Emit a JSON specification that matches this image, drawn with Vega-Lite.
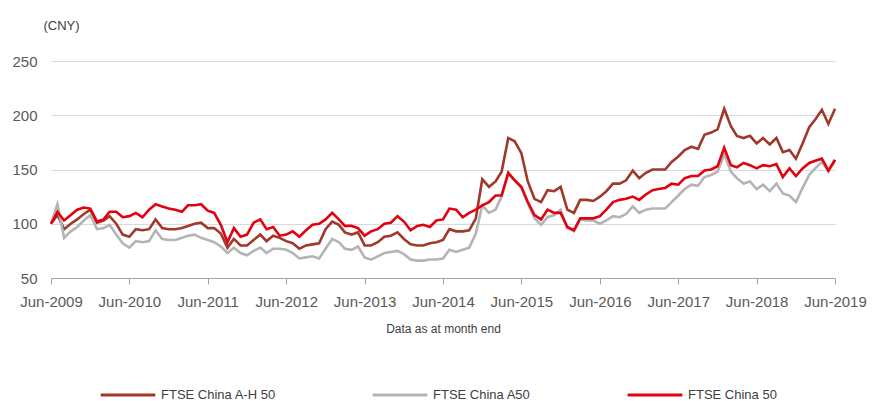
{
  "$schema": "https://vega.github.io/schema/vega-lite/v6.json",
  "width": 784,
  "height": 217,
  "autosize": {"type": "none"},
  "padding": {"left": 51, "top": 61, "right": 37, "bottom": 123},
  "config": {"view": {"stroke": null}, "font": "Liberation Sans"},
  "data": {"values": [
    {"date": "2009-06-01", "FTSE China A-H 50": 100, "FTSE China A50": 100, "FTSE China 50": 100},
    {"date": "2009-07-01", "FTSE China A-H 50": 108, "FTSE China A50": 118, "FTSE China 50": 111},
    {"date": "2009-08-01", "FTSE China A-H 50": 95, "FTSE China A50": 87, "FTSE China 50": 103},
    {"date": "2009-09-01", "FTSE China A-H 50": 100, "FTSE China A50": 93, "FTSE China 50": 108},
    {"date": "2009-10-01", "FTSE China A-H 50": 104, "FTSE China A50": 97, "FTSE China 50": 113},
    {"date": "2009-11-01", "FTSE China A-H 50": 109, "FTSE China A50": 103, "FTSE China 50": 115},
    {"date": "2009-12-01", "FTSE China A-H 50": 113, "FTSE China A50": 108, "FTSE China 50": 114},
    {"date": "2010-01-01", "FTSE China A-H 50": 101, "FTSE China A50": 95, "FTSE China 50": 102},
    {"date": "2010-02-01", "FTSE China A-H 50": 103, "FTSE China A50": 96, "FTSE China 50": 104},
    {"date": "2010-03-01", "FTSE China A-H 50": 107, "FTSE China A50": 99, "FTSE China 50": 111},
    {"date": "2010-04-01", "FTSE China A-H 50": 100, "FTSE China A50": 90, "FTSE China 50": 111},
    {"date": "2010-05-01", "FTSE China A-H 50": 90, "FTSE China A50": 82, "FTSE China 50": 106},
    {"date": "2010-06-01", "FTSE China A-H 50": 88, "FTSE China A50": 78, "FTSE China 50": 107},
    {"date": "2010-07-01", "FTSE China A-H 50": 95, "FTSE China A50": 84, "FTSE China 50": 110},
    {"date": "2010-08-01", "FTSE China A-H 50": 94, "FTSE China A50": 83, "FTSE China 50": 106},
    {"date": "2010-09-01", "FTSE China A-H 50": 95, "FTSE China A50": 84, "FTSE China 50": 113},
    {"date": "2010-10-01", "FTSE China A-H 50": 104, "FTSE China A50": 94, "FTSE China 50": 118},
    {"date": "2010-11-01", "FTSE China A-H 50": 96, "FTSE China A50": 86, "FTSE China 50": 116},
    {"date": "2010-12-01", "FTSE China A-H 50": 95, "FTSE China A50": 85, "FTSE China 50": 114},
    {"date": "2011-01-01", "FTSE China A-H 50": 95, "FTSE China A50": 85, "FTSE China 50": 113},
    {"date": "2011-02-01", "FTSE China A-H 50": 96, "FTSE China A50": 87, "FTSE China 50": 111},
    {"date": "2011-03-01", "FTSE China A-H 50": 98, "FTSE China A50": 89, "FTSE China 50": 117},
    {"date": "2011-04-01", "FTSE China A-H 50": 100, "FTSE China A50": 90, "FTSE China 50": 117},
    {"date": "2011-05-01", "FTSE China A-H 50": 101, "FTSE China A50": 87, "FTSE China 50": 118},
    {"date": "2011-06-01", "FTSE China A-H 50": 96, "FTSE China A50": 85, "FTSE China 50": 112},
    {"date": "2011-07-01", "FTSE China A-H 50": 96, "FTSE China A50": 83, "FTSE China 50": 110},
    {"date": "2011-08-01", "FTSE China A-H 50": 91, "FTSE China A50": 79, "FTSE China 50": 99},
    {"date": "2011-09-01", "FTSE China A-H 50": 78, "FTSE China A50": 73, "FTSE China 50": 83},
    {"date": "2011-10-01", "FTSE China A-H 50": 86, "FTSE China A50": 78, "FTSE China 50": 96},
    {"date": "2011-11-01", "FTSE China A-H 50": 80, "FTSE China A50": 73, "FTSE China 50": 88},
    {"date": "2011-12-01", "FTSE China A-H 50": 80, "FTSE China A50": 71, "FTSE China 50": 90},
    {"date": "2012-01-01", "FTSE China A-H 50": 85, "FTSE China A50": 75, "FTSE China 50": 101},
    {"date": "2012-02-01", "FTSE China A-H 50": 90, "FTSE China A50": 78, "FTSE China 50": 104},
    {"date": "2012-03-01", "FTSE China A-H 50": 84, "FTSE China A50": 73, "FTSE China 50": 95},
    {"date": "2012-04-01", "FTSE China A-H 50": 89, "FTSE China A50": 77, "FTSE China 50": 97},
    {"date": "2012-05-01", "FTSE China A-H 50": 87, "FTSE China A50": 77, "FTSE China 50": 89},
    {"date": "2012-06-01", "FTSE China A-H 50": 84, "FTSE China A50": 76, "FTSE China 50": 90},
    {"date": "2012-07-01", "FTSE China A-H 50": 82, "FTSE China A50": 73, "FTSE China 50": 93},
    {"date": "2012-08-01", "FTSE China A-H 50": 77, "FTSE China A50": 68, "FTSE China 50": 88},
    {"date": "2012-09-01", "FTSE China A-H 50": 80, "FTSE China A50": 69, "FTSE China 50": 94},
    {"date": "2012-10-01", "FTSE China A-H 50": 81, "FTSE China A50": 70, "FTSE China 50": 99},
    {"date": "2012-11-01", "FTSE China A-H 50": 82, "FTSE China A50": 68, "FTSE China 50": 100},
    {"date": "2012-12-01", "FTSE China A-H 50": 95, "FTSE China A50": 77, "FTSE China 50": 104},
    {"date": "2013-01-01", "FTSE China A-H 50": 102, "FTSE China A50": 86, "FTSE China 50": 110},
    {"date": "2013-02-01", "FTSE China A-H 50": 99, "FTSE China A50": 83, "FTSE China 50": 104},
    {"date": "2013-03-01", "FTSE China A-H 50": 92, "FTSE China A50": 77, "FTSE China 50": 98},
    {"date": "2013-04-01", "FTSE China A-H 50": 90, "FTSE China A50": 76, "FTSE China 50": 98},
    {"date": "2013-05-01", "FTSE China A-H 50": 92, "FTSE China A50": 79, "FTSE China 50": 96},
    {"date": "2013-06-01", "FTSE China A-H 50": 80, "FTSE China A50": 69, "FTSE China 50": 89},
    {"date": "2013-07-01", "FTSE China A-H 50": 80, "FTSE China A50": 67, "FTSE China 50": 93},
    {"date": "2013-08-01", "FTSE China A-H 50": 83, "FTSE China A50": 70, "FTSE China 50": 95},
    {"date": "2013-09-01", "FTSE China A-H 50": 88, "FTSE China A50": 73, "FTSE China 50": 100},
    {"date": "2013-10-01", "FTSE China A-H 50": 89, "FTSE China A50": 74, "FTSE China 50": 101},
    {"date": "2013-11-01", "FTSE China A-H 50": 92, "FTSE China A50": 75, "FTSE China 50": 107},
    {"date": "2013-12-01", "FTSE China A-H 50": 86, "FTSE China A50": 72, "FTSE China 50": 102},
    {"date": "2014-01-01", "FTSE China A-H 50": 81, "FTSE China A50": 67, "FTSE China 50": 94},
    {"date": "2014-02-01", "FTSE China A-H 50": 80, "FTSE China A50": 66, "FTSE China 50": 98},
    {"date": "2014-03-01", "FTSE China A-H 50": 80, "FTSE China A50": 66, "FTSE China 50": 99},
    {"date": "2014-04-01", "FTSE China A-H 50": 82, "FTSE China A50": 67, "FTSE China 50": 97},
    {"date": "2014-05-01", "FTSE China A-H 50": 83, "FTSE China A50": 67, "FTSE China 50": 103},
    {"date": "2014-06-01", "FTSE China A-H 50": 85, "FTSE China A50": 68, "FTSE China 50": 104},
    {"date": "2014-07-01", "FTSE China A-H 50": 95, "FTSE China A50": 76, "FTSE China 50": 114},
    {"date": "2014-08-01", "FTSE China A-H 50": 93, "FTSE China A50": 74, "FTSE China 50": 113},
    {"date": "2014-09-01", "FTSE China A-H 50": 93, "FTSE China A50": 76, "FTSE China 50": 106},
    {"date": "2014-10-01", "FTSE China A-H 50": 94, "FTSE China A50": 78, "FTSE China 50": 110},
    {"date": "2014-11-01", "FTSE China A-H 50": 105, "FTSE China A50": 91, "FTSE China 50": 113},
    {"date": "2014-12-01", "FTSE China A-H 50": 141, "FTSE China A50": 117, "FTSE China 50": 117},
    {"date": "2015-01-01", "FTSE China A-H 50": 134, "FTSE China A50": 110, "FTSE China 50": 120},
    {"date": "2015-02-01", "FTSE China A-H 50": 139, "FTSE China A50": 113, "FTSE China 50": 126},
    {"date": "2015-03-01", "FTSE China A-H 50": 148, "FTSE China A50": 125, "FTSE China 50": 126},
    {"date": "2015-04-01", "FTSE China A-H 50": 179, "FTSE China A50": 146, "FTSE China 50": 147},
    {"date": "2015-05-01", "FTSE China A-H 50": 176, "FTSE China A50": 140, "FTSE China 50": 140},
    {"date": "2015-06-01", "FTSE China A-H 50": 165, "FTSE China A50": 133, "FTSE China 50": 134},
    {"date": "2015-07-01", "FTSE China A-H 50": 139, "FTSE China A50": 119, "FTSE China 50": 120},
    {"date": "2015-08-01", "FTSE China A-H 50": 123, "FTSE China A50": 105, "FTSE China 50": 108},
    {"date": "2015-09-01", "FTSE China A-H 50": 120, "FTSE China A50": 99, "FTSE China 50": 104},
    {"date": "2015-10-01", "FTSE China A-H 50": 131, "FTSE China A50": 106, "FTSE China 50": 113},
    {"date": "2015-11-01", "FTSE China A-H 50": 130, "FTSE China A50": 108, "FTSE China 50": 110},
    {"date": "2015-12-01", "FTSE China A-H 50": 134, "FTSE China A50": 113, "FTSE China 50": 110},
    {"date": "2016-01-01", "FTSE China A-H 50": 113, "FTSE China A50": 96, "FTSE China 50": 97},
    {"date": "2016-02-01", "FTSE China A-H 50": 110, "FTSE China A50": 93, "FTSE China 50": 94},
    {"date": "2016-03-01", "FTSE China A-H 50": 122, "FTSE China A50": 104, "FTSE China 50": 105},
    {"date": "2016-04-01", "FTSE China A-H 50": 122, "FTSE China A50": 103, "FTSE China 50": 105},
    {"date": "2016-05-01", "FTSE China A-H 50": 121, "FTSE China A50": 103, "FTSE China 50": 105},
    {"date": "2016-06-01", "FTSE China A-H 50": 125, "FTSE China A50": 100, "FTSE China 50": 107},
    {"date": "2016-07-01", "FTSE China A-H 50": 130, "FTSE China A50": 103, "FTSE China 50": 113},
    {"date": "2016-08-01", "FTSE China A-H 50": 137, "FTSE China A50": 107, "FTSE China 50": 120},
    {"date": "2016-09-01", "FTSE China A-H 50": 137, "FTSE China A50": 106, "FTSE China 50": 122},
    {"date": "2016-10-01", "FTSE China A-H 50": 140, "FTSE China A50": 109, "FTSE China 50": 123},
    {"date": "2016-11-01", "FTSE China A-H 50": 149, "FTSE China A50": 116, "FTSE China 50": 125},
    {"date": "2016-12-01", "FTSE China A-H 50": 142, "FTSE China A50": 110, "FTSE China 50": 122},
    {"date": "2017-01-01", "FTSE China A-H 50": 147, "FTSE China A50": 113, "FTSE China 50": 127},
    {"date": "2017-02-01", "FTSE China A-H 50": 150, "FTSE China A50": 114, "FTSE China 50": 131},
    {"date": "2017-03-01", "FTSE China A-H 50": 150, "FTSE China A50": 114, "FTSE China 50": 132},
    {"date": "2017-04-01", "FTSE China A-H 50": 150, "FTSE China A50": 114, "FTSE China 50": 133},
    {"date": "2017-05-01", "FTSE China A-H 50": 157, "FTSE China A50": 120, "FTSE China 50": 137},
    {"date": "2017-06-01", "FTSE China A-H 50": 162, "FTSE China A50": 126, "FTSE China 50": 136},
    {"date": "2017-07-01", "FTSE China A-H 50": 168, "FTSE China A50": 132, "FTSE China 50": 142},
    {"date": "2017-08-01", "FTSE China A-H 50": 171, "FTSE China A50": 136, "FTSE China 50": 144},
    {"date": "2017-09-01", "FTSE China A-H 50": 169, "FTSE China A50": 135, "FTSE China 50": 144},
    {"date": "2017-10-01", "FTSE China A-H 50": 182, "FTSE China A50": 143, "FTSE China 50": 149},
    {"date": "2017-11-01", "FTSE China A-H 50": 184, "FTSE China A50": 145, "FTSE China 50": 150},
    {"date": "2017-12-01", "FTSE China A-H 50": 187, "FTSE China A50": 148, "FTSE China 50": 153},
    {"date": "2018-01-01", "FTSE China A-H 50": 206, "FTSE China A50": 164, "FTSE China 50": 170},
    {"date": "2018-02-01", "FTSE China A-H 50": 190, "FTSE China A50": 148, "FTSE China 50": 154},
    {"date": "2018-03-01", "FTSE China A-H 50": 181, "FTSE China A50": 142, "FTSE China 50": 152},
    {"date": "2018-04-01", "FTSE China A-H 50": 179, "FTSE China A50": 137, "FTSE China 50": 156},
    {"date": "2018-05-01", "FTSE China A-H 50": 181, "FTSE China A50": 139, "FTSE China 50": 154},
    {"date": "2018-06-01", "FTSE China A-H 50": 174, "FTSE China A50": 132, "FTSE China 50": 151},
    {"date": "2018-07-01", "FTSE China A-H 50": 179, "FTSE China A50": 136, "FTSE China 50": 154},
    {"date": "2018-08-01", "FTSE China A-H 50": 173, "FTSE China A50": 130, "FTSE China 50": 153},
    {"date": "2018-09-01", "FTSE China A-H 50": 179, "FTSE China A50": 137, "FTSE China 50": 155},
    {"date": "2018-10-01", "FTSE China A-H 50": 166, "FTSE China A50": 128, "FTSE China 50": 143},
    {"date": "2018-11-01", "FTSE China A-H 50": 168, "FTSE China A50": 126, "FTSE China 50": 151},
    {"date": "2018-12-01", "FTSE China A-H 50": 160, "FTSE China A50": 120, "FTSE China 50": 144},
    {"date": "2019-01-01", "FTSE China A-H 50": 174, "FTSE China A50": 133, "FTSE China 50": 151},
    {"date": "2019-02-01", "FTSE China A-H 50": 189, "FTSE China A50": 145, "FTSE China 50": 156},
    {"date": "2019-03-01", "FTSE China A-H 50": 196, "FTSE China A50": 151, "FTSE China 50": 158},
    {"date": "2019-04-01", "FTSE China A-H 50": 205, "FTSE China A50": 157, "FTSE China 50": 160},
    {"date": "2019-05-01", "FTSE China A-H 50": 192, "FTSE China A50": 148, "FTSE China 50": 149},
    {"date": "2019-06-01", "FTSE China A-H 50": 206, "FTSE China A50": 158, "FTSE China 50": 159}
  ]},
  "transform": [
    {"fold": ["FTSE China A-H 50", "FTSE China A50", "FTSE China 50"], "as": ["series", "value"]}
  ],
  "mark": {"type": "line", "strokeWidth": 2.6},
  "encoding": {
    "x": {
      "field": "date",
      "type": "temporal",
      "scale": {"type": "utc", "nice": false},
      "axis": {
        "values": [
          {"year": 2009, "month": 6, "date": 1, "utc": true},
          {"year": 2010, "month": 6, "date": 1, "utc": true},
          {"year": 2011, "month": 6, "date": 1, "utc": true},
          {"year": 2012, "month": 6, "date": 1, "utc": true},
          {"year": 2013, "month": 6, "date": 1, "utc": true},
          {"year": 2014, "month": 6, "date": 1, "utc": true},
          {"year": 2015, "month": 6, "date": 1, "utc": true},
          {"year": 2016, "month": 6, "date": 1, "utc": true},
          {"year": 2017, "month": 6, "date": 1, "utc": true},
          {"year": 2018, "month": 6, "date": 1, "utc": true},
          {"year": 2019, "month": 6, "date": 1, "utc": true}
        ],
        "labelExpr": "utcFormat(datum.value, '%b-%Y')",
        "grid": false,
        "domainColor": "#a6a6a6",
        "tickColor": "#a6a6a6",
        "tickSize": 6,
        "labelFontSize": 15,
        "labelColor": "#595959",
        "labelPadding": 10,
        "labelOverlap": false,
        "labelFlush": false,
        "title": "Data as at month end",
        "titleFontSize": 12,
        "titleFontWeight": "normal",
        "titleColor": "#404040",
        "titleX": 392,
        "titleY": 54,
        "titleAlign": "center",
        "titleBaseline": "alphabetic"
      }
    },
    "y": {
      "field": "value",
      "type": "quantitative",
      "scale": {"domain": [50, 250], "nice": false, "zero": false},
      "axis": {
        "values": [50, 100, 150, 200, 250],
        "grid": true,
        "gridColor": "#d9d9d9",
        "gridWidth": 1,
        "domain": false,
        "ticks": false,
        "tickSize": 0,
        "labelFontSize": 15,
        "labelColor": "#595959",
        "labelPadding": 14,
        "title": "(CNY)",
        "titleAngle": 0,
        "titleAlign": "left",
        "titleBaseline": "alphabetic",
        "titleX": -8,
        "titleY": -32,
        "titleFontSize": 13,
        "titleFontWeight": "normal",
        "titleColor": "#404040"
      }
    },
    "color": {
      "field": "series",
      "type": "nominal",
      "scale": {
        "domain": ["FTSE China A-H 50", "FTSE China A50", "FTSE China 50"],
        "range": ["#a0382b", "#b4b4b4", "#e3000f"]
      },
      "legend": {
        "orient": "none",
        "legendX": 48,
        "legendY": 305,
        "direction": "horizontal",
        "title": null,
        "padding": 0,
        "symbolType": "stroke",
        "symbolSize": 3000,
        "symbolStrokeWidth": 3,
        "labelFontSize": 13,
        "labelColor": "#404040",
        "labelOffset": 4,
        "columnPadding": 90
      }
    }
  }
}
